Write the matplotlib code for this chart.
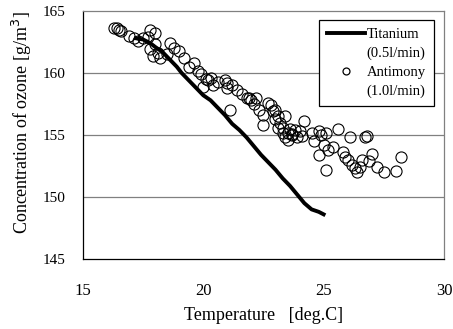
import matplotlib
matplotlib.use("Agg")
import matplotlib.pyplot as plt
from matplotlib.lines import Line2D

# Titanium (0.5 l/min) - continuous trace
ti_temp = [17.2, 17.5, 17.8, 18.0, 18.3, 18.6, 18.9, 19.1, 19.4, 19.7, 20.0, 20.3,
           20.6, 20.9, 21.2, 21.5, 21.8, 22.1, 22.4, 22.7, 23.0, 23.3, 23.6, 23.9,
           24.2, 24.5, 24.8, 25.0]
ti_conc = [162.8, 162.7, 162.4, 162.1, 161.7, 161.1, 160.5, 160.0, 159.4, 158.8, 158.2, 157.8,
           157.2, 156.6, 155.9, 155.4, 154.8, 154.1, 153.4, 152.8, 152.2, 151.5, 150.9, 150.2,
           149.5, 149.0, 148.8, 148.6]

# Antimony (1.0 l/min) - scattered measurements
sb_temp = [16.3, 16.4, 16.5, 16.6, 16.9, 17.1, 17.3, 17.5, 17.8, 18.0, 17.7, 17.8,
           17.9, 18.1, 18.2, 18.0, 18.6, 18.8, 19.0, 19.2, 18.5, 19.4, 19.6, 19.8,
           19.9, 20.1, 20.3, 20.4, 20.6, 20.0, 20.9, 21.0, 21.2, 21.4, 21.6, 21.8,
           21.9, 22.0, 22.2, 22.1, 22.3, 22.5, 22.7, 22.8, 22.9, 23.0, 23.0, 23.2,
           23.1, 23.3, 23.4, 23.5, 23.6, 23.7, 23.8, 23.5, 23.9, 24.0, 24.1, 24.2,
           23.4, 24.5, 24.6, 24.8, 24.9, 25.1, 25.0, 25.2, 24.8, 25.1, 25.4, 25.6,
           25.8, 25.9, 26.0, 26.2, 26.3, 26.4, 26.5, 26.7, 26.8, 26.6, 26.9, 27.0,
           27.2, 27.5, 28.0, 28.2, 26.1, 21.1, 22.5, 23.1, 20.2, 21.0, 23.3, 23.7]
sb_conc = [163.6, 163.6, 163.5, 163.4, 163.0, 162.8, 162.6, 162.8, 163.5, 163.2, 162.9, 161.9,
           161.4, 161.6, 161.2, 162.3, 162.4, 162.0, 161.8, 161.2, 161.5, 160.5, 160.8, 160.2,
           159.9, 159.5, 159.6, 159.0, 159.3, 158.9, 159.4, 158.8, 159.0, 158.6, 158.3, 158.0,
           158.0, 157.8, 158.0, 157.5, 157.0, 156.6, 157.6, 157.4, 156.9, 157.0, 156.3, 156.0,
           155.6, 155.2, 154.8, 155.2, 155.5, 155.0, 155.4, 154.6, 154.8, 155.3, 154.9, 156.1,
           156.5, 155.2, 154.5, 155.3, 155.0, 155.2, 154.2, 153.8, 153.4, 152.2, 154.0, 155.5,
           153.6, 153.2, 153.0, 152.6, 152.3, 152.0, 152.4, 154.8, 154.9, 153.0, 152.9, 153.5,
           152.4, 152.0, 152.1, 153.2, 154.8, 157.0, 155.8, 156.5, 159.4, 159.2, 155.6, 155.1]

plt.rcParams["font.family"] = ["Liberation Serif", "DejaVu Serif"]

fig = plt.figure(figsize=(4.53, 3.29), dpi=100)
ax = fig.add_axes([0.1832, 0.2128, 0.7968, 0.7538])

ti_line, = ax.plot(ti_temp, ti_conc, color="black", lw=2.8, solid_joinstyle="round")
sb_pts, = ax.plot(sb_temp, sb_conc, "o", ms=8, mfc="none", mec="black", mew=0.8)

ax.set_xlim(15, 30)
ax.set_ylim(145, 165)
ax.set_xticks([15, 20, 25, 30])
ax.set_yticks([145, 150, 155, 160, 165])
ax.tick_params(axis="both", length=0)
ax.tick_params(axis="y", pad=12.5, labelsize=11)
ax.tick_params(axis="x", pad=17, labelsize=12)

for y in [150, 155, 160]:
    ax.axhline(y, color="#808080", lw=0.9, zorder=0)

ax.spines["left"].set_color("black")
ax.spines["bottom"].set_color("black")
ax.spines["top"].set_color("#808080")
ax.spines["right"].set_color("#808080")
for s in ax.spines.values():
    s.set_linewidth(0.9)

ax.set_xlabel("Temperature   [deg.C]", fontsize=13, labelpad=6)
ax.set_ylabel("Concentration of ozone [g/m$^3$]", fontsize=13)
ax.yaxis.set_label_coords(-0.135, 0.55)

# handles sit beside the first line of each label, as in the original
blank = Line2D([], [], linestyle="none")
sb_handle = Line2D([], [], linestyle="none", marker="o", ms=5, mfc="none",
                   mec="black", mew=0.9)
leg = ax.legend([ti_line, blank, sb_handle, blank],
                ["Titanium", "(0.5l/min)", "Antimony", "(1.0l/min)"],
                loc="upper right", bbox_to_anchor=(0.972, 0.964), borderaxespad=0,
                fontsize=10.5, fancybox=False, framealpha=1, edgecolor="black",
                handlelength=2.6, handletextpad=0.1, labelspacing=0.38,
                borderpad=0.55)
leg.get_frame().set_linewidth(0.9)

fig.savefig("out.png", dpi=100)
